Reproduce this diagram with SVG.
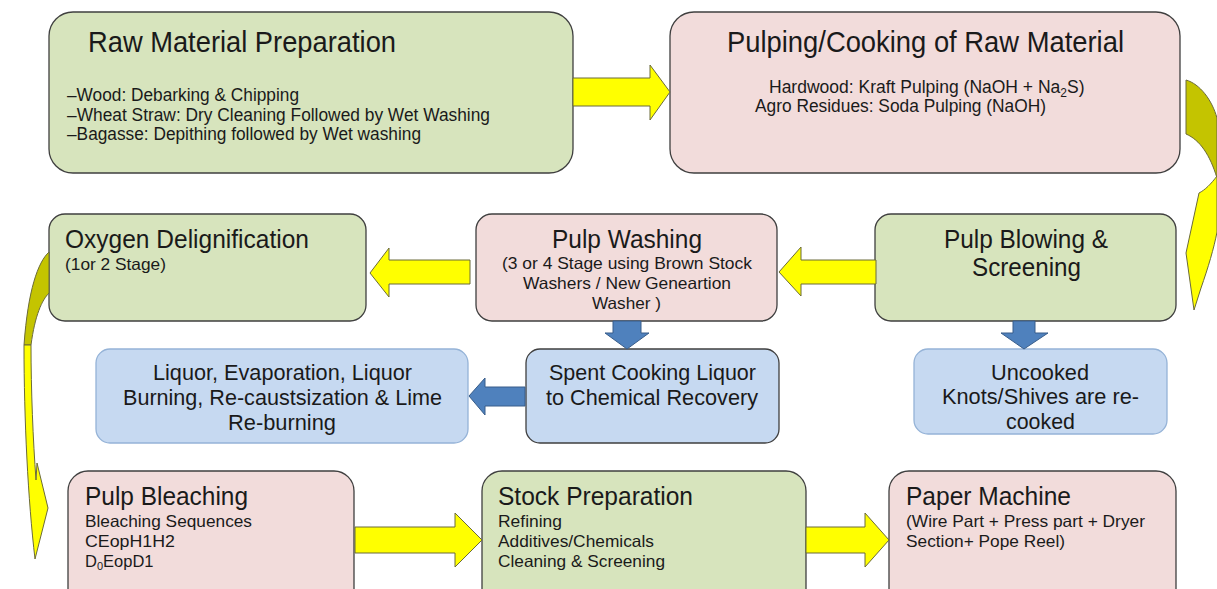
<svg xmlns="http://www.w3.org/2000/svg" width="1217" height="589" viewBox="0 0 1217 589">
  <style>
    text { font-family: "Liberation Sans", Arial, sans-serif; fill: #1a1a1a; }
    .green { fill: #d7e4bd; stroke: #3f3f3f; stroke-width: 1.3; }
    .pink { fill: #f2dcdb; stroke: #3f3f3f; stroke-width: 1.3; }
    .blue { fill: #c6d9f1; stroke: #3f3f3f; stroke-width: 1.3; }
    .bluelite { fill: #c6d9f1; stroke: #95b3d7; stroke-width: 1.3; }
    .t28 { font-size: 29px; }
    .t24 { font-size: 25px; }
    .t21 { font-size: 21.5px; }
    .t17 { font-size: 17.5px; }
    .t16 { font-size: 16.5px; }
    .yarrow { fill: #ffff00; stroke: #6b6b3a; stroke-width: 1; }
    .oarrow { fill: #c4c400; stroke: #6b6b3a; stroke-width: 1; }
    .barrow { fill: #4f81bd; stroke: #385d8a; stroke-width: 1; }
  </style>

  <rect width="1217" height="589" fill="#ffffff"/>

  <!-- process steps -->
  <g id="raw-material">
    <rect class="green" x="49" y="12" width="524" height="161" rx="24"/>
    <text class="t28" x="88" y="52" textLength="308" lengthAdjust="spacingAndGlyphs">Raw Material Preparation</text>
    <text class="t17" x="67" y="101" textLength="232" lengthAdjust="spacingAndGlyphs">–Wood: Debarking &amp; Chipping</text>
    <text class="t17" x="67" y="121" textLength="423" lengthAdjust="spacingAndGlyphs">–Wheat Straw: Dry Cleaning Followed by Wet Washing</text>
    <text class="t17" x="67" y="140" textLength="354" lengthAdjust="spacingAndGlyphs">–Bagasse: Depithing followed by Wet washing</text>
  </g>

  <g id="pulping">
    <rect class="pink" x="670" y="12" width="510" height="161" rx="24"/>
    <text class="t28" x="727" y="52" textLength="397" lengthAdjust="spacingAndGlyphs">Pulping/Cooking of Raw Material</text>
    <text class="t17" x="769" y="93">Hardwood: Kraft Pulping (NaOH + Na<tspan font-size="12" dy="4">2</tspan><tspan dy="-4">S)</tspan></text>
    <text class="t17" x="755" y="112" textLength="291" lengthAdjust="spacingAndGlyphs">Agro Residues: Soda Pulping (NaOH)</text>
  </g>

  <g id="oxygen-delignification">
    <rect class="green" x="49" y="214" width="317" height="107" rx="16"/>
    <text class="t24" x="65" y="248" textLength="244" lengthAdjust="spacingAndGlyphs">Oxygen Delignification</text>
    <text class="t16" x="65" y="270" textLength="101" lengthAdjust="spacingAndGlyphs">(1or 2 Stage)</text>
  </g>

  <g id="pulp-washing">
    <rect class="pink" x="476" y="214" width="301" height="107" rx="16"/>
    <text class="t24" x="552" y="248" textLength="150" lengthAdjust="spacingAndGlyphs">Pulp Washing</text>
    <text class="t16" x="502" y="269" textLength="250" lengthAdjust="spacingAndGlyphs">(3 or 4 Stage using Brown Stock</text>
    <text class="t16" x="523" y="289" textLength="208" lengthAdjust="spacingAndGlyphs">Washers / New Geneartion</text>
    <text class="t16" x="592" y="309" textLength="69" lengthAdjust="spacingAndGlyphs">Washer )</text>
  </g>

  <g id="pulp-blowing">
    <rect class="green" x="875" y="214" width="301" height="107" rx="16"/>
    <text class="t24" x="944" y="248" textLength="164" lengthAdjust="spacingAndGlyphs">Pulp Blowing &amp;</text>
    <text class="t24" x="972" y="276" textLength="109" lengthAdjust="spacingAndGlyphs">Screening</text>
  </g>

  <g id="liquor-recovery">
    <rect class="bluelite" x="96" y="349" width="372" height="94" rx="14"/>
    <text class="t21" x="153" y="380" textLength="259" lengthAdjust="spacingAndGlyphs">Liquor, Evaporation, Liquor</text>
    <text class="t21" x="123" y="405" textLength="319" lengthAdjust="spacingAndGlyphs">Burning, Re-caustsization &amp; Lime</text>
    <text class="t21" x="228" y="430" textLength="108" lengthAdjust="spacingAndGlyphs">Re-burning</text>
  </g>

  <g id="spent-liquor">
    <rect class="blue" x="526" y="349" width="253" height="94" rx="14"/>
    <text class="t21" x="549" y="380" textLength="207" lengthAdjust="spacingAndGlyphs">Spent Cooking Liquor</text>
    <text class="t21" x="546" y="405" textLength="212" lengthAdjust="spacingAndGlyphs">to Chemical Recovery</text>
  </g>

  <g id="uncooked-knots">
    <rect class="bluelite" x="914" y="349" width="253" height="85" rx="14"/>
    <text class="t21" x="991" y="380" textLength="98" lengthAdjust="spacingAndGlyphs">Uncooked</text>
    <text class="t21" x="942" y="404" textLength="197" lengthAdjust="spacingAndGlyphs">Knots/Shives are re-</text>
    <text class="t21" x="1006" y="429" textLength="69" lengthAdjust="spacingAndGlyphs">cooked</text>
  </g>

  <g id="pulp-bleaching">
    <rect class="pink" x="68" y="471" width="286" height="140" rx="20"/>
    <text class="t24" x="85" y="505" textLength="163" lengthAdjust="spacingAndGlyphs">Pulp Bleaching</text>
    <text class="t16" x="85" y="527" textLength="167" lengthAdjust="spacingAndGlyphs">Bleaching Sequences</text>
    <text class="t16" x="85" y="547" textLength="90" lengthAdjust="spacingAndGlyphs">CEopH1H2</text>
    <text class="t16" x="85" y="567">D<tspan font-size="11" dy="3">0</tspan><tspan dy="-3">EopD1</tspan></text>
  </g>

  <g id="stock-preparation">
    <rect class="green" x="482" y="471" width="324" height="140" rx="20"/>
    <text class="t24" x="498" y="505" textLength="195" lengthAdjust="spacingAndGlyphs">Stock Preparation</text>
    <text class="t16" x="498" y="527" textLength="64" lengthAdjust="spacingAndGlyphs">Refining</text>
    <text class="t16" x="498" y="547" textLength="156" lengthAdjust="spacingAndGlyphs">Additives/Chemicals</text>
    <text class="t16" x="498" y="567" textLength="167" lengthAdjust="spacingAndGlyphs">Cleaning &amp; Screening</text>
  </g>

  <g id="paper-machine">
    <rect class="pink" x="889" y="471" width="287" height="140" rx="20"/>
    <text class="t24" x="906" y="505" textLength="165" lengthAdjust="spacingAndGlyphs">Paper Machine</text>
    <text class="t16" x="906" y="527" textLength="239" lengthAdjust="spacingAndGlyphs">(Wire Part + Press part + Dryer</text>
    <text class="t16" x="906" y="547" textLength="159" lengthAdjust="spacingAndGlyphs">Section+ Pope Reel)</text>
  </g>

  <!-- block arrows between steps -->
  <g id="connectors">
    <!-- raw material to pulping -->
    <path class="yarrow" d="M573,78 L650,78 L650,65 L670,92 L650,120 L650,106 L573,106 Z"/>
    <!-- pulping curving down to blowing -->
    <path class="oarrow" d="M1186,80 C1200,84 1212,100 1217,118 L1217,178 C1210,155 1200,140 1186,134 Z"/>
    <path class="yarrow" d="M1217,176 C1211,184 1205,190 1199,193 L1186,253 L1194,310 L1201,288 C1208,268 1214,248 1217,232 Z"/>
    <!-- blowing to washing -->
    <path class="yarrow" d="M876,260 L801,260 L801,247 L779,272 L801,296 L801,284 L876,284 Z"/>
    <!-- washing to oxygen delignification -->
    <path class="yarrow" d="M470,260 L389,260 L389,248 L370,273 L389,297 L389,284 L470,284 Z"/>
    <!-- oxygen delignification curving down to bleaching -->
    <path class="oarrow" d="M49,252 C38,262 28,290 24,345 L31,345 C35,315 42,300 49,293 Z"/>
    <path class="yarrow" d="M24,345 C24,420 28,500 35,559 L48,508 L37,463 L36,480 C33,440 31,390 31,345 Z"/>
    <!-- bleaching to stock preparation -->
    <path class="yarrow" d="M355,527 L455,527 L455,513 L482,540 L455,567 L455,553 L355,553 Z"/>
    <!-- stock preparation to paper machine -->
    <path class="yarrow" d="M806,527 L865,527 L865,513 L889,540 L865,567 L865,553 L806,553 Z"/>
    <!-- washing down to spent liquor -->
    <path class="barrow" d="M613,321 L641,321 L641,333 L649,333 L627,349 L605,333 L613,333 Z"/>
    <!-- spent liquor to recovery -->
    <path class="barrow" d="M525,387 L485,387 L485,378 L469,396 L485,415 L485,406 L525,406 Z"/>
    <!-- blowing down to uncooked knots -->
    <path class="barrow" d="M1013,321 L1035,321 L1035,333 L1048,333 L1024,349 L1001,333 L1013,333 Z"/>
  </g>
</svg>
